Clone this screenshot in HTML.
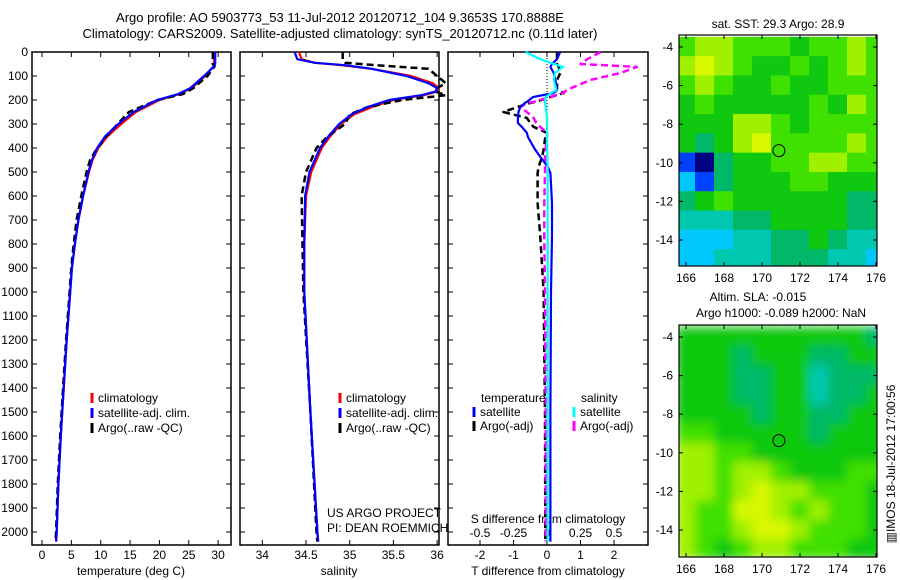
<!DOCTYPE html>
<html><head><meta charset="utf-8"><style>
html,body{margin:0;padding:0;background:#fff;}
svg{display:block;font-family:"Liberation Sans",sans-serif;}
text{font-size:12px;fill:#000;}
</style></head><body>
<svg id="fig" width="900" height="580" viewBox="0 0 900 580" xmlns="http://www.w3.org/2000/svg">
<text x="340" y="22" text-anchor="middle" style="font-size:13px">Argo profile: AO 5903773_53 11-Jul-2012 20120712_104 9.3653S 170.8888E</text>
<text x="340" y="38" text-anchor="middle" style="font-size:13px">Climatology: CARS2009. Satellite-adjusted climatology: synTS_20120712.nc (0.11d later)</text>
<g id="g"></g>
</svg>
<script>
// ---- data ----
const tDepth = [0,50,60,100,150,175,200,250,300,350,400,450,500,600,700,800,900,1000,1200,1400,1600,1800,2000,2040];
const tClim  = [29.3,29.3,29.2,27.8,25.5,23.5,20.0,16.0,13.5,11.2,9.6,8.6,8.0,7.0,6.2,5.6,5.1,4.8,4.2,3.7,3.2,2.8,2.5,2.4];
const tSat   = [29.5,29.5,29.3,27.6,25.3,23.2,19.6,15.6,13.0,10.8,9.4,8.5,7.9,7.0,6.2,5.6,5.1,4.8,4.2,3.7,3.2,2.8,2.5,2.4];
const tArgo  = [29.1,29.1,29.4,28.2,25.8,24.0,19.7,14.8,12.9,11.0,9.4,8.2,7.6,6.7,5.9,5.4,5.0,4.7,4.1,3.6,3.1,2.7,2.4,2.3];
const sDepth = [0,30,45,55,70,100,130,150,165,180,200,230,260,300,350,400,500,600,800,1000,1500,2000,2040];
const sClim  = [34.42,34.45,34.6,34.9,35.25,35.7,35.95,36.02,36.0,35.85,35.5,35.25,35.05,34.9,34.78,34.68,34.56,34.5,34.48,34.48,34.55,34.63,34.64];
const sSat   = [34.37,34.4,34.6,34.95,35.25,35.65,35.9,36.0,35.98,35.82,35.45,35.2,35.02,34.88,34.76,34.66,34.54,34.49,34.48,34.48,34.55,34.63,34.64];
const sArgo  = [34.92,34.92,34.95,35.3,35.9,36.0,36.1,36.0,35.98,36.1,35.6,35.2,35.0,34.95,34.75,34.62,34.5,34.45,34.46,34.47,34.55,34.62,34.63];
const dDepth = [0,30,50,62,87,117,158,171,188,208,212,230,250,275,296,312,337,354,408,437,479,504,629,770,1000,1500,2040];
const dTsat  = [0.39,0.3,0.15,0.1,0.2,0.25,0.3,0.2,-0.42,-0.6,-0.66,-0.8,-0.85,-0.87,-0.87,-0.75,-0.6,-0.57,-0.35,-0.2,0.03,0.1,0.15,0.15,0.12,0.1,0.1];
const dTargo = [0.3,0.3,0.3,0.35,0.4,0.3,0.3,0.5,0.1,-0.35,-0.5,-0.9,-1.3,-0.6,-0.5,-0.4,0.0,-0.05,-0.1,-0.15,-0.25,-0.28,-0.28,-0.2,-0.1,-0.06,-0.05];
const dSsat  = [-0.16,-0.05,0.05,0.12,0.06,0.05,0.07,0.03,-0.01,-0.015,-0.015,-0.01,-0.005,0,0,0,0,0,0.002,0.003,0.005,0.005,0.005,0.005,0.005,0.005,0.005];
const dSargo = [0.4,0.3,0.25,0.67,0.55,0.32,0.15,0.12,0.02,-0.1,-0.15,-0.2,-0.15,-0.1,-0.08,-0.05,0,0,-0.01,-0.015,-0.015,-0.015,-0.02,-0.02,-0.015,-0.01,-0.01];
const depthTicks = [0,100,200,300,400,500,600,700,800,900,1000,1100,1200,1300,1400,1500,1600,1700,1800,1900,2000];
const tTicks = [0,5,10,15,20,25,30];
const sTicks = [34,34.5,35,35.5,36];
const dtTicks = [-2,-1,0,1,2];
const dsTicks = [-0.5,-0.25,0,0.25,0.5];
const dsTickLabels = ["-0.5","-0.25","0","0.25","0.5"];
const lonTicks = [166,168,170,172,174,176];
const latTicks = [-4,-6,-8,-10,-12,-14];
const latTickLabels = ["-4","-6","-8","-10","-12","-14"];
const mapLons = [166,167,168,169,170,171,172,173,174,175,176];
const mapLats = [-4,-5,-6,-7,-8,-9,-10,-11,-12,-13,-14,-15];
const sstGrid = [
[6,7,7,6,6,6,5,6,6,7,6],
[7,8,7,6,5,5,6,5,6,7,6],
[6,7,6,5,5,6,5,5,6,6,6],
[5,6,5,5,5,5,5,6,5,7,6],
[5,5,5,7,7,6,5,6,6,6,6],
[5,4,5,7,8,6,6,6,6,7,6],
[1,0,4,5,5,6,6,7,7,6,6],
[2,1,4,5,5,5,6,6,5,5,5],
[4,5,6,5,5,5,5,5,5,4,4],
[3,3,3,4,4,5,5,5,5,4,4],
[2,2,2,3,3,4,4,5,4,3,3],
[2,2,3,3,3,4,4,4,3,3,2]];
const slaGrid = [
[5,5,5,5,5,5,5,5,5,5,4],
[5,5,5,4,5,5,5,4,4,5,5],
[5,5,5,4,4,5,5,3,4,4,4],
[5,5,5,4,4,5,5,3,4,4,5],
[5,5,5,5,4,5,5,4,4,5,5],
[6,6,5,5,5,5,5,4,5,5,5],
[7,7,6,6,5,5,5,5,5,5,5],
[7,7,6,7,7,6,5,5,5,6,6],
[7,7,6,7,8,7,7,6,6,6,5],
[7,6,6,8,8,7,6,7,6,6,5],
[7,6,6,7,8,8,7,6,6,6,5],
[7,6,5,6,7,7,6,6,6,5,5]];
const argoLon = 170.89, argoLat = -9.37;

// ---- helpers ----
const NS="http://www.w3.org/2000/svg";
const G=document.getElementById('g');
function el(tag,attrs,parent){const e=document.createElementNS(NS,tag);for(const k in attrs)e.setAttribute(k,attrs[k]);(parent||G).appendChild(e);return e;}
function txt(x,y,s,anchor,parent){const t=el('text',{x:x,y:y,'text-anchor':anchor||'start'},parent);t.textContent=s;return t;}
const yTop=52, yPx=0.24;
const yD=d=>yTop+d*yPx;
const panBot=545;
function line(xs,ds,xf,color,w,dash,name){
  let p='';for(let i=0;i<xs.length;i++){p+=(i?'L':'M')+xf(xs[i]).toFixed(1)+','+yD(ds[i]).toFixed(1);}
  const a={d:p,fill:'none',stroke:color,'stroke-width':w,'stroke-linejoin':'round'};
  if(dash)a['stroke-dasharray']=dash;
  const e=el('path',a);
  
  
  return e;
}
function frame(x0,x1,name){
  const r=el('rect',{x:x0,y:yTop,width:x1-x0,height:panBot-yTop,fill:'none',stroke:'#000','stroke-width':1.5});
  
  
}
function xticks(ticks,xf,labels,ly){
  ticks.forEach((t,i)=>{const x=xf(t);
    el('line',{x1:x,x2:x,y1:panBot,y2:panBot-5,stroke:'#000'});
    el('line',{x1:x,x2:x,y1:yTop,y2:yTop+5,stroke:'#000'});
    const l=txt(x,ly,labels?labels[i]:String(t),'middle');
    
    
  });
}
function legendEntry(x,y,color,label){
  el('line',{x1:x,x2:x,y1:y-9,y2:y+1,stroke:color,'stroke-width':3});
  const t=txt(x+6,y,label);
  
  
}

// ---- panel 1: temperature ----
const xT=v=>42+v*5.87;
frame(32,231,'temperature-panel');
depthTicks.forEach(d=>{const y=yD(d);
  el('line',{x1:32,x2:37,y1:y,y2:y,stroke:'#000'});el('line',{x1:226,x2:231,y1:y,y2:y,stroke:'#000'});
  el('line',{x1:240,x2:245,y1:y,y2:y,stroke:'#000'});el('line',{x1:434,x2:439,y1:y,y2:y,stroke:'#000'});
  el('line',{x1:448,x2:453,y1:y,y2:y,stroke:'#000'});el('line',{x1:643,x2:648,y1:y,y2:y,stroke:'#000'});
  const l=txt(28,y+4,String(d),'end');
  
  
});
xticks(tTicks,xT,null,559);
const tt=txt(131,575,'temperature (deg C)','middle');


line(tClim,tDepth,xT,'#f00',2.2,null,'temp-climatology-line');
line(tArgo,tDepth,xT,'#000',2.5,'7,4','temp-argo-line');
line(tSat,tDepth,xT,'#00f',2.2,null,'temp-satellite-line');
legendEntry(92,402,'#f00','climatology');
legendEntry(92,417,'#00f','satellite-adj. clim.');
legendEntry(92,432,'#000','Argo(..raw -QC)');

// ---- panel 2: salinity ----
const xS=v=>306+(v-34.5)*87.4;
frame(240,439,'salinity-panel');
xticks(sTicks,xS,null,559);
const st=txt(339,575,'salinity','middle');


line(sClim,sDepth,xS,'#f00',2.2,null,'sal-climatology-line');
line(sArgo,sDepth,xS,'#000',2.5,'7,4','sal-argo-line');
line(sSat,sDepth,xS,'#00f',2.2,null,'sal-satellite-line');
legendEntry(340,402,'#f00','climatology');
legendEntry(340,417,'#00f','satellite-adj. clim.');
legendEntry(340,432,'#000','Argo(..raw -QC)');
const pr1=txt(327,517,'US ARGO PROJECT');
const pr2=txt(327,532,'PI: DEAN ROEMMICH');

// ---- panel 3: differences ----
const xDT=v=>547+v*33.5;
const xDS=v=>547+v*134;
frame(448,648,'difference-panel');
el('line',{x1:547,x2:547,y1:yTop,y2:135,stroke:'#000','stroke-dasharray':'1,2'});
xticks(dtTicks,xDT,null,559);
dsTicks.forEach((t,i)=>{const l=txt(xDS(t),537,dsTickLabels[i],'middle');
  
  });
const sdt=txt(548,523,'S difference from climatology','middle');
const tdt=txt(548,575,'T difference from climatology','middle');
line(dTargo,dDepth,xDT,'#000',2.5,'7,4','tdiff-argo-line');
line(dSargo,dDepth,xDS,'#f0f',2.5,'7,4','sdiff-argo-line');
line(dTsat,dDepth,xDT,'#00f',2.2,null,'tdiff-satellite-line');
line(dSsat,dDepth,xDS,'#0ff',2.2,null,'sdiff-satellite-line');
const lt=txt(481,402,'temperature');
const ls=txt(581,402,'salinity');
legendEntry(474,416,'#00f','satellite');
legendEntry(474,430,'#000','Argo(-adj)');
legendEntry(574,416,'#0ff','satellite');
legendEntry(574,430,'#f0f','Argo(-adj)');

// ---- maps ----
const cmap=['#000080','#0040ff','#00c8ff','#00c8b0','#00b868','#10c810','#40e000','#a0f000','#d8f800'];
function map(y0,y1,lat4,lat14,grid,name,blur){
  const x0=679,x1=877;
  const xL=lon=>686+(lon-166)*19;
  const yL=lat=>lat4+(lat+4)*(lat14-lat4)/(-10);
  const dx=19, dy=(lat14-lat4)/10;
  const cid='clip-'+name;
  const cp=el('clipPath',{id:cid});el('rect',{x:x0,y:y0,width:x1-x0,height:y1-y0},cp);
  const g=el('g',{'clip-path':'url(#'+cid+')'});
  const g2=el('g',blur?{filter:'url(#blur)'}:{},g);
  grid.forEach((row,r)=>row.forEach((v,c)=>{
    const cell=el('rect',{x:xL(mapLons[c])-dx/2-0.5,y:yL(mapLats[r])-dy/2-0.5,width:dx+1,height:dy+1,fill:cmap[v]},g2);
    
    
  }));
  const fr=el('rect',{x:x0,y:y0,width:x1-x0,height:y1-y0,fill:'none',stroke:'#000','stroke-width':1.2});
  
  
  lonTicks.forEach(l=>{const x=xL(l);el('line',{x1:x,x2:x,y1:y1,y2:y1-4,stroke:'#000'});el('line',{x1:x,x2:x,y1:y0,y2:y0+4,stroke:'#000'});
    const t=txt(x,y1+16,String(l),'middle');});
  latTicks.forEach((l,i)=>{const y=yL(l);el('line',{x1:x0,x2:x0+4,y1:y,y2:y,stroke:'#000'});el('line',{x1:x1,x2:x1-4,y1:y,y2:y,stroke:'#000'});
    const t=txt(x0-6,y+4,latTickLabels[i],'end');});
  const c=el('circle',{cx:xL(argoLon),cy:yL(argoLat),r:6,fill:'none',stroke:'#000','stroke-width':1});
  
  
}
const defs=el('defs',{});
const f=el('filter',{id:'blur',x:'-10%',y:'-10%',width:'120%',height:'120%'},defs);
el('feGaussianBlur',{stdDeviation:5},f);
map(35,266,47,240,sstGrid,'sst-map',false);
map(325,557,337,530,slaGrid,'sla-map',true);
const m1=txt(778,28,'sat. SST: 29.3 Argo: 28.9','middle');
const m2=txt(758,301,'Altim. SLA: -0.015','middle');
const m3=txt(781,317,'Argo h1000: -0.089 h2000: NaN','middle');
const im=txt(0,0,'\u25A5IMOS 18-Jul-2012 17:00:56','middle');
im.setAttribute('transform','translate(895,464) rotate(-90)');


</script>
</body></html>
